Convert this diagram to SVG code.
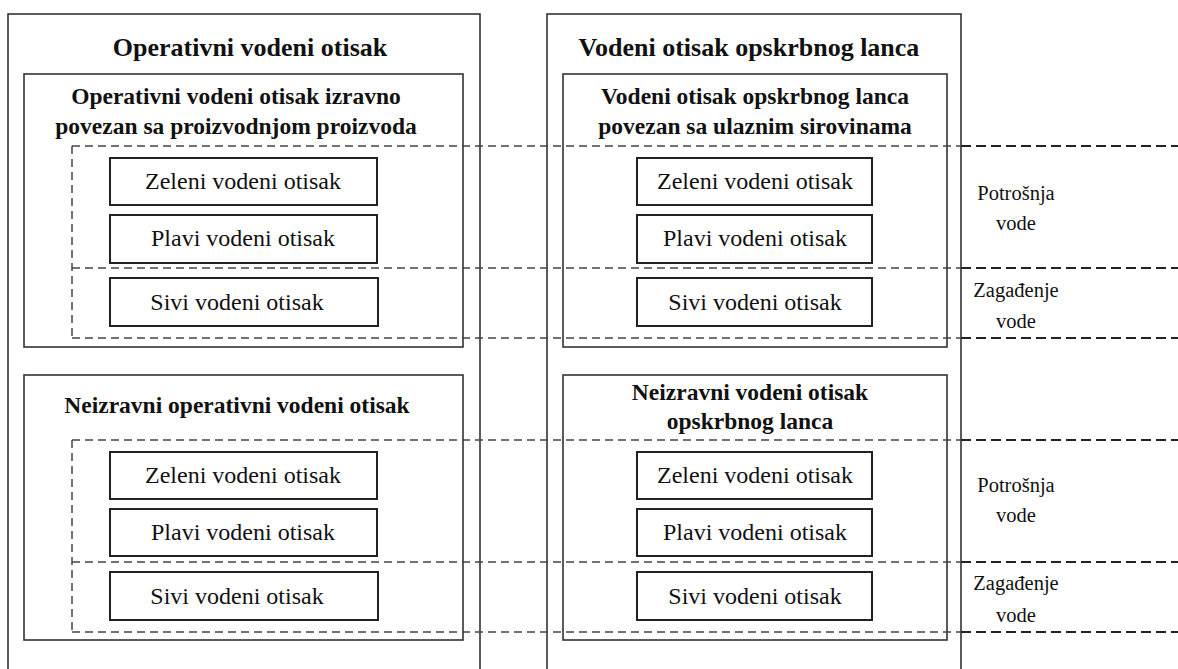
<svg xmlns="http://www.w3.org/2000/svg" width="1178" height="669" viewBox="0 0 1178 669">
<style>
.frame{fill:none;stroke:#333;stroke-width:1.6}
.box{fill:#fff;stroke:#222;stroke-width:2}
.dash{fill:none;stroke:#444;stroke-width:1.5;stroke-dasharray:8 5}
.dash2{fill:none;stroke:#222;stroke-width:1.8;stroke-dasharray:10 5}
.t{font-family:"Liberation Serif","Times New Roman",serif;fill:#111;text-anchor:middle}
.h1{font-size:26px;font-weight:bold}
.h2{font-size:23.5px;font-weight:bold}
.b{font-size:24px}
.l{font-size:20.5px}
</style>
<rect width="1178" height="669" fill="#fff"/>
<g id="col-operativni">
<rect class="frame" x="8" y="14" width="472" height="670"/>
<text class="t h1" x="250" y="56">Operativni vodeni otisak</text>
</g>
<g id="col-opskrbni">
<rect class="frame" x="547" y="14" width="414" height="670"/>
<text class="t h1" x="749" y="56">Vodeni otisak opskrbnog lanca</text>
</g>
<g id="op-izravno">
<rect class="frame" x="24" y="74" width="439" height="273"/>
<text class="t h2" x="236" y="104">Operativni vodeni otisak izravno</text>
<text class="t h2" x="236" y="134">povezan sa proizvodnjom proizvoda</text>
</g>
<g id="op-neizravno">
<rect class="frame" x="24" y="375" width="439" height="265"/>
<text class="t h2" x="237" y="413">Neizravni operativni vodeni otisak</text>
</g>
<g id="ops-izravno">
<rect class="frame" x="563" y="74" width="384" height="273"/>
<text class="t h2" x="755" y="104">Vodeni otisak opskrbnog lanca</text>
<text class="t h2" x="755" y="134">povezan sa ulaznim sirovinama</text>
</g>
<g id="ops-neizravno">
<rect class="frame" x="563" y="375" width="384" height="265"/>
<text class="t h2" x="750" y="400">Neizravni vodeni otisak</text>
<text class="t h2" x="750" y="429">opskrbnog lanca</text>
</g>
<g id="connectors">
<path class="dash" d="M72,146H961M72,268H961M72,338H961M72,146V338"/>
<path class="dash" d="M72,440H961M72,562H961M72,632H961M72,440V632"/>
<path class="dash2" d="M961,146H1178M961,268H1178M961,338H1178M961,440H1178M961,562H1178M961,632H1178"/>
</g>
<g id="n1"><rect class="box" x="110" y="158" width="267" height="47"/><text class="t b" x="243" y="189">Zeleni vodeni otisak</text></g>
<g id="n2"><rect class="box" x="110" y="215" width="267" height="48"/><text class="t b" x="243" y="246">Plavi vodeni otisak</text></g>
<g id="n3"><rect class="box" x="110" y="278" width="268" height="48"/><text class="t b" x="237" y="310">Sivi vodeni otisak</text></g>
<g id="n4"><rect class="box" x="637" y="158" width="235" height="47"/><text class="t b" x="755" y="189">Zeleni vodeni otisak</text></g>
<g id="n5"><rect class="box" x="637" y="215" width="235" height="48"/><text class="t b" x="755" y="246">Plavi vodeni otisak</text></g>
<g id="n6"><rect class="box" x="637" y="278" width="235" height="48"/><text class="t b" x="755" y="310">Sivi vodeni otisak</text></g>
<g id="n7"><rect class="box" x="110" y="452" width="267" height="47"/><text class="t b" x="243" y="483">Zeleni vodeni otisak</text></g>
<g id="n8"><rect class="box" x="110" y="509" width="267" height="47"/><text class="t b" x="243" y="540">Plavi vodeni otisak</text></g>
<g id="n9"><rect class="box" x="110" y="572" width="268" height="48"/><text class="t b" x="237" y="604">Sivi vodeni otisak</text></g>
<g id="n10"><rect class="box" x="637" y="452" width="235" height="47"/><text class="t b" x="755" y="483">Zeleni vodeni otisak</text></g>
<g id="n11"><rect class="box" x="637" y="509" width="235" height="47"/><text class="t b" x="755" y="540">Plavi vodeni otisak</text></g>
<g id="n12"><rect class="box" x="637" y="572" width="235" height="48"/><text class="t b" x="755" y="604">Sivi vodeni otisak</text></g>
<g id="labels">
<text class="t l" x="1016" y="200">Potrošnja</text>
<text class="t l" x="1016" y="230">vode</text>
<text class="t l" x="1016" y="297">Zagađenje</text>
<text class="t l" x="1016" y="328">vode</text>
<text class="t l" x="1016" y="492">Potrošnja</text>
<text class="t l" x="1016" y="522">vode</text>
<text class="t l" x="1016" y="590">Zagađenje</text>
<text class="t l" x="1016" y="622">vode</text>
</g>
</svg>
